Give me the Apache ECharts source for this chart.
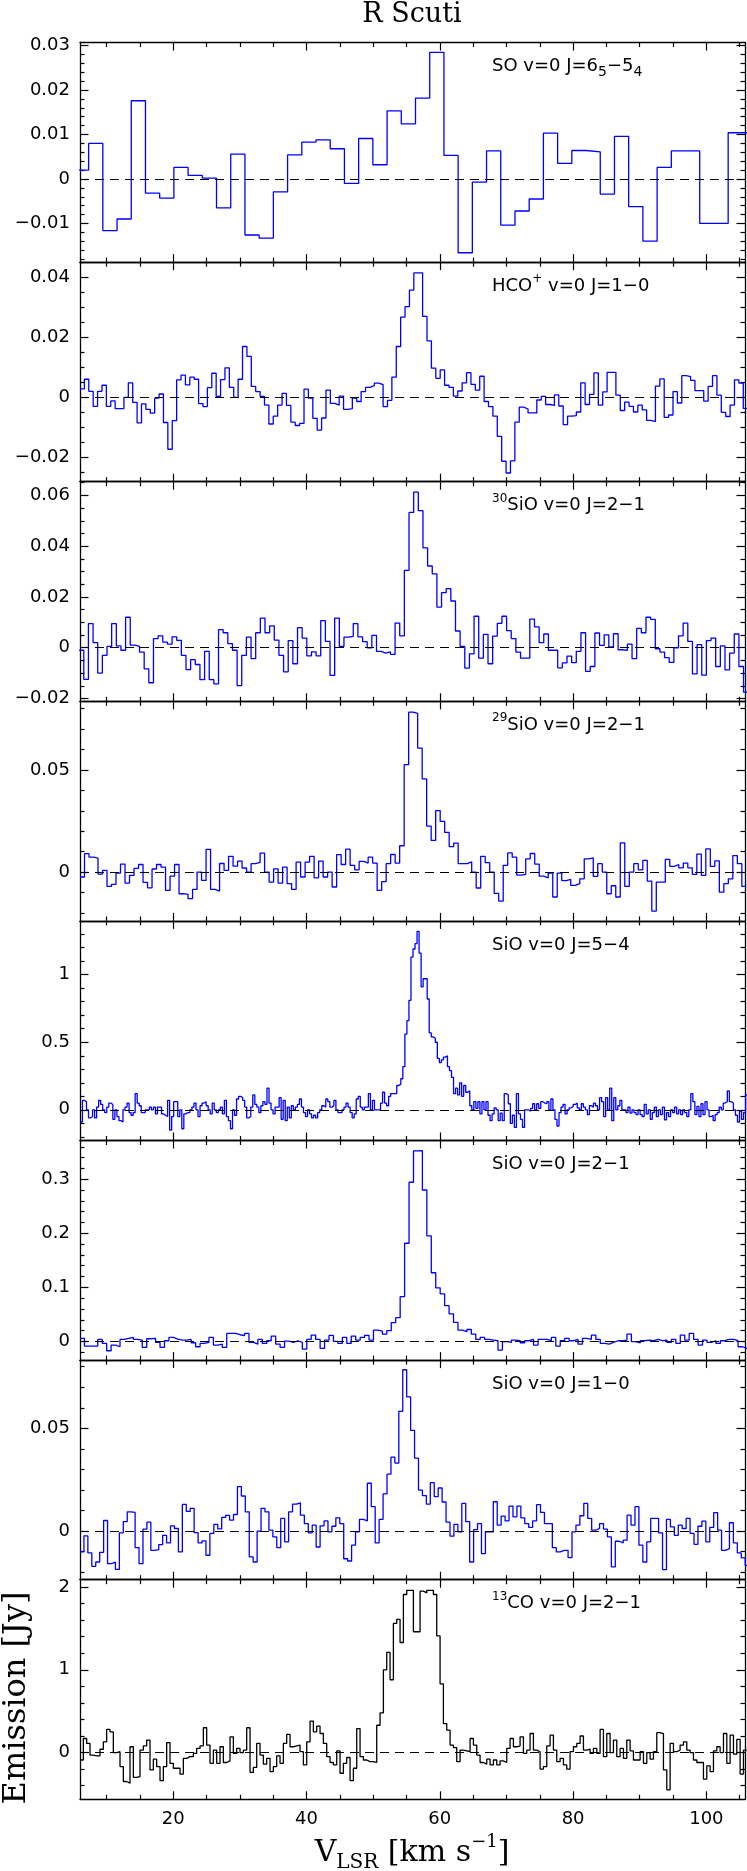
<!DOCTYPE html>
<html>
<head>
<meta charset="utf-8">
<script src="https://cdn.jsdelivr.net/npm/echarts@6/dist/echarts.min.js"></script>
<style>
html, body { margin: 0; padding: 0; background: #fff; }
#chart { width: 747px; height: 1871px; }
</style>
</head>
<body>
<div id="chart"></div>
<script>
// velocity axis (km/s)
var vMin = 6, vMax = 105.8;
var xMajorTicks = [20, 40, 60, 80, 100];
var xMinorTicks = [10, 15, 25, 30, 35, 45, 50, 55, 65, 70, 75, 85, 90, 95, 105];

// each spectrum: [left edge of first channel, right edge of last channel] and flux per channel (Jy)
var soEdges = [5.16, 107.54];
var soFlux = [0.002, 0.008, -0.0116, -0.009, 0.0176, -0.0032, -0.0043, 0.0026, 0.0008, 0.0002,
  -0.0065, 0.0056, -0.0126, -0.0133, -0.0029, 0.0054, 0.0083, 0.0088, 0.0068, -0.001,
  0.0091, 0.0032, 0.0153, 0.0124, 0.0182, 0.0285, 0.0053, -0.0166, -0.0007, 0.0063,
  -0.0104, -0.0072, -0.0045, 0.0103, 0.0035, 0.0064, 0.0061, -0.0034, 0.0096, -0.0062,
  -0.014, 0.0026, 0.0063, 0.0063, -0.01, -0.01, 0.0104, 0.0104];

var hcoEdges = [6.0, 106.2];
var hcoFlux = [0.0028,
  0.006, 0.002, -0.003, 0.002, 0.004, -0.003, -0.0012, -0.0038, -0.0038, 0,
  0.0048, -0.0017, -0.0085, -0.0022, -0.004, -0.0053, -0.0003, 0.0011, -0.0084, -0.0173,
  -0.0078, 0.0058, 0.0074, 0.0041, 0.0067, 0.006, -0.0021, -0.0031, 0.0032, 0.008,
  0.0003, 0.0059, 0.0098, 0.0033, 0, 0.006, 0.0169, 0.0136, 0.0036, 0.0019,
  0.0003, -0.0026, -0.0089, -0.0063, -0.0026, 0.0013, -0.0027, -0.0083, -0.0094, -0.0087,
  0.0027, -0.0003, -0.007, -0.0109, -0.0069, 0.0024, -0.002, -0.0026, 0.0004, -0.004,
  -0.0038, -0.0003, -0.0014, 0.0019, 0.0033, 0.0039, 0.0047, 0.0042, -0.0031, -0.001,
  0.0067, 0.0169, 0.0267, 0.0302, 0.0357, 0.0414, 0.0414, 0.0269, 0.0188, 0.0097,
  0.0063, 0.0091, 0.004, 0.0033, 0.0004, 0.0021, 0.0048, 0.0082, 0.0043, 0.0024,
  0.007, -0.0014, -0.0031, -0.0063, -0.013, -0.0213, -0.0252, -0.0212, -0.0083, -0.0033,
  -0.0039, -0.0052, -0.0052, -0.0009, 0.0003, -0.0024, -0.0027, 0.0008, -0.0029, -0.0091,
  -0.0063, -0.0061, -0.0049, 0.0048, -0.0024, 0.001, 0.0081, -0.0026, 0.0018, 0.0083,
  0.0083, 0.0007, -0.0044, -0.0016, -0.003, -0.0049, -0.0026, -0.0042, -0.0077, -0.0081,
  0.0037, 0.0061, -0.0067, -0.0059, 0.0019, -0.0019, 0.0072, 0.0069, 0.0056, 0.0022,
  0.0022, -0.0013, 0.0036, 0.0072, 0.0007, -0.005, -0.0064, -0.0026, 0.0058, 0.0047,
  -0.0037];

var si30Edges = [5.87, 106.28];
var si30Flux = [-0.001,
  -0.0125, 0.0095, 0.002, -0.01, -0.003, 0.0005, 0.0095, 0.0007, -0.001, 0.012,
  0.001, 0.0005, -0.0017, -0.0083, -0.0138, 0.0036, 0.0047, 0.0022, 0.0014, 0.0043,
  0.0029, -0.003, -0.0086, -0.0047, -0.0066, -0.0126, -0.0014, -0.0126, -0.0142, 0.0071,
  0.0059, 0.0016, -0.001, -0.0149, -0.003, 0.0042, -0.0043, 0.0059, 0.0117, 0.0059,
  0.0086, 0.003, -0.003, -0.0095, 0.0028, -0.0063, 0.0079, 0.0038, -0.0032, -0.0016,
  -0.0032, 0.0107, 0.0025, -0.0109, 0.0117, 0.0005, 0.0042, 0.0045, 0.0095, 0.0043,
  0.0024, 0, 0.0049, -0.0014, -0.0021, -0.0016, -0.0026, 0.0097, 0.0047, 0.0305,
  0.0533, 0.0613, 0.054, 0.0393, 0.0322, 0.0291, 0.016, 0.0217, 0.0233, 0.0184,
  0.0066, 0.0005, -0.008, -0.0024, 0.0124, -0.0041, 0.0053, -0.0063, 0.0046, 0.0096,
  0.0124, 0.0067, 0.0036, -0.0017, -0.0041, -0.0041, 0.0113, 0.0082, 0.002, 0.0054,
  -0.001, -0.001, -0.0079, -0.006, -0.0033, -0.0059, -0.0014, 0.0059, -0.0093, -0.0074,
  0.0058, 0.0009, 0.0051, 0.0003, 0.0055, -0.0008, -0.001, 0.0014, -0.0043, 0.0076,
  0.0059, 0.012, 0.0112, -0.0004, -0.0017, -0.0039, -0.0058, 0, 0.0047, 0.0097,
  0.0025, -0.0103, 0.0012, -0.0108, 0.0028, 0.0038, -0.0074, 0.0007, -0.0087, -0.0021,
  0.0054, -0.0074, -0.0175];

var si29Edges = [6.0, 106.0];
var si29Flux = [-0.0024, 0.009, 0.0073, 0.0068, -0.001, 0.0008, -0.007, -0.006, -0.0005, 0.0039,
  -0.0054, -0.0016, 0.0018, 0.0037, -0.005, -0.0077, 0.0015, 0.0037, 0.0024, -0.009,
  -0.002, 0.0037, -0.0106, -0.0109, -0.013, -0.0085, 0, -0.0041, 0.0111, -0.0085,
  -0.0093, 0.0042, 0.0008, 0.0077, 0.0029, 0.0054, 0.002, 0, 0.0041, 0.0047,
  0.0093, 0, -0.0049, 0.0016, -0.0054, 0.0024, -0.0057, -0.0085, 0.0049, -0.0024,
  0.0049, 0.0077, -0.0028, 0.0054, -0.0024, 0, -0.0073, 0.0085, 0.0037, 0.0112,
  0.0033, 0.0011, 0.0052, 0.0044, 0.0073, 0.0044, -0.009, -0.0047, 0.0041, 0.0086,
  0.0044, 0.0129, 0.0526, 0.0783, 0.0777, 0.0607, 0.0456, 0.0225, 0.0155, 0.0301,
  0.0248, 0.0194, 0.0125, 0.0142, 0.0041, 0.0041, 0.005, 0, -0.0078, 0.0077,
  0.0046, 0, -0.0104, -0.0142, 0.0033, 0.0094, 0.0073, -0.0015, -0.0011, 0.0065,
  0.0091, 0.0039, -0.002, -0.0028, -0.0005, -0.0122, -0.0005, -0.0042, -0.0036, -0.0065,
  -0.0057, -0.0033, 0.0065, 0.007, -0.0021, 0.0041, 0, -0.0106, -0.0067, -0.0122,
  0.0143, -0.007, 0, 0.0041, 0.0011, 0.0057, -0.0044, -0.0191, -0.0049, -0.0049,
  0.0062, 0.0028, 0.0037, 0.0021, 0.0044, 0.0021, -0.0011, 0.0088, -0.0016, 0.0114,
  0.0028, 0.0055, -0.0098, -0.0057, -0.0033, 0.0081, 0.0041, -0.007];

var sio54Edges = [6.06, 106.8];
var sio54Flux = [-0.09, 0.07, 0.06, 0.0, -0.06, -0.05, 0.0, -0.06, 0.02, 0.07,
  0.04, 0.0, -0.02, 0.02, 0.05, 0.04, -0.07, 0.0, -0.05, -0.08,
  -0.09, 0.0, 0.02, 0.05, -0.02, -0.04, -0.02, 0.12, 0.05, 0.03,
  -0.02, -0.02, 0.0, 0.0, 0.02, 0.0, 0.02, -0.03, 0.02, 0.02,
  -0.03, -0.04, -0.05, 0.07, -0.15, -0.05, 0.06, 0.06, -0.05, 0.0,
  -0.14, -0.03, -0.02, -0.02, 0.0, 0.02, 0.05, 0.0, -0.05, 0.03,
  0.05, 0.06, 0.03, 0.0, -0.03, 0.05, 0.0, -0.02, 0.0, 0.02,
  -0.03, 0.07, -0.05, -0.08, -0.14, 0.0, -0.04, 0.08, 0.1, 0.09,
  0.07, 0.02, -0.06, -0.05, 0.02, 0.11, 0.04, 0.02, -0.02, 0.03,
  0.06, 0.04, 0.16, 0.05, 0.0, -0.03, 0.02, 0.02, 0.09, -0.07,
  0.07, -0.08, 0.02, -0.06, 0.03, 0.0, 0.02, 0.04, 0.08, 0.02,
  -0.02, -0.05, 0.0, -0.03, -0.06, -0.04, -0.06, -0.02, 0.0, 0.03,
  0.02, 0.08, 0.06, 0.02, 0.03, 0.07, 0.0, -0.02, -0.02, 0.0,
  0.02, 0.05, 0.02, -0.02, -0.06, -0.03, 0.08, 0.1, 0.02, 0.0,
  0.02, 0.02, 0.12, 0.0, 0.07, 0.0, 0.0,
  0.0, 0.05, 0.13, 0.05, 0.03, 0.1, 0.12, 0.12, 0.12, 0.18,
  0.19, 0.23, 0.32, 0.56, 0.66, 0.81, 1.13, 1.19, 1.23, 1.32,
  1.16, 0.91, 0.97, 0.97, 0.82, 0.57, 0.54, 0.53, 0.5, 0.38,
  0.35, 0.37, 0.39, 0.4, 0.32, 0.29, 0.24, 0.12, 0.16, 0.11,
  0.2, 0.1, 0.18, 0.13, 0.14, 0.03, 0.0, 0.06, 0.01, 0.06,
  -0.03, 0.06, 0.0, 0.06, -0.04, -0.08, -0.03, 0.015, 0, -0.08,
  -0.025, -0.08, 0.12, 0.11, 0.045, -0.1, -0.04, -0.13, 0.12, -0.03,
  -0.07, -0.13, 0, 0, -0.01, 0.01, 0.045, 0, 0.045, 0.01,
  0.06, 0.05, 0.045, 0.06, 0, 0.08, 0, -0.07, -0.12, -0.02,
  0.02, 0.04, -0.03, 0, 0.015, 0.025, 0.04, 0.05, 0.015, 0,
  0.045, 0.02, 0, -0.035, 0.03, 0.02, 0.05, 0.03, 0, 0.09,
  0.06, -0.05, 0.09, 0, 0.16, -0.08, 0.09, 0, 0.03, 0.07,
  0, 0, -0.02, 0.02, -0.025, 0, -0.02, -0.035, 0, -0.035,
  -0.05, 0.04, -0.03, 0, -0.07, -0.02, 0.02, -0.05, 0, -0.035,
  0.02, -0.075, -0.02, -0.05, 0, -0.02, 0.02, -0.03, 0, -0.035,
  0, -0.02, -0.05, 0, 0.12, 0.06, -0.035, 0.025, -0.05, 0.045,
  -0.035, 0.06, 0, -0.05, -0.04, -0.08, -0.035, -0.02, 0.02, 0,
  0.05, 0.06, 0.14, 0.06, 0.05, 0, -0.04, -0.09, -0.01, -0.07,
  -0.02, 0.11, 0.045, 0];

var sio21Edges = [6.0, 106.1];
var sio21Flux = [0.0056, -0.0086, -0.0086, -0.0086, 0.0037, -0.0037, -0.0173, -0.0068, -0.0099, 0.0037,
  0.0056, 0.0074, 0.0037, 0.0025, -0.0111, 0.0049, 0.0056, -0.0019, -0.0111, 0.0012,
  0.0074, 0.0043, 0.0025, 0.0025, 0.0037, -0.0025, -0.0099, -0.0037, -0.0019, 0.0074,
  -0.0068, -0.0049, -0.0111, 0.0148, 0.0148, 0.0123, 0.0105, 0.0148, -0.0019, -0.0049,
  0.0037, -0.0037, 0.0012, 0.0099, -0.0049, -0.0111, 0.0006, -0.0019, 0.0012, -0.0019,
  -0.0142, 0.0037, 0.0117, 0.0037, -0.013, 0.0025, 0.0111, 0, -0.0037, 0.0074,
  -0.0037, 0.0099, 0.0025, 0.0074, 0.0111, 0.0025, 0.021, 0.0191, 0.0136, 0.0198,
  0.0346, 0.0438, 0.0827, 0.1815, 0.2944, 0.3525, 0.353, 0.28, 0.195, 0.127,
  0.099, 0.088, 0.066, 0.051, 0.035, 0.021, 0.018, 0.022, 0.0136, 0.0037,
  0.0074, 0.0037, 0.0025, 0.0012, -0.016, -0.0006, -0.0019, 0.0025, 0.0012, -0.0025,
  0.0012, 0.0037, -0.0068, 0.0037, 0.0037, 0.0012, 0.0074, -0.0086, 0.0012, 0.0056,
  0.0012, 0.0037, -0.0049, 0.0056, 0.0037, 0.0117, 0.0037, -0.0037, -0.0049, -0.0019,
  0.0012, 0.0012, 0.0025, 0.0136, -0.0006, -0.0025, 0.0012, 0.0025, 0.0012, 0.0037,
  0.0012, 0.0025, -0.0019, 0.0037, -0.0037, 0.0117, 0.0025, 0.0148, 0.0037, -0.0068,
  0.0025, -0.0019, 0.0012, -0.0037, 0.0012, 0.0037, 0.0037, 0.0012, -0.0099, -0.013];

var sio10Edges = [6.0, 107.6];
var sio10Flux = [-0.01, -0.0023, -0.0106, -0.0171, -0.015, -0.0103, 0.0052, -0.0158, -0.0151, -0.0186,
  -0.0008, 0.0046, 0.0094, 0.0091, -0.008, -0.0158, 0.001, 0.0044, -0.0093, -0.009,
  -0.0065, -0.002, -0.0057, 0.0026, 0.0013, -0.0101, 0.013, 0.0096, 0.0111, -0.0007,
  -0.0057, -0.0047, -0.0117, -0.0011, 0.0033, 0.0011, 0.0067, 0.0077, 0.0054, 0.0081,
  0.0217, 0.0171, 0.0094, -0.0125, -0.015, 0, 0.0111, 0.0094, 0.0005, -0.0028,
  -0.008, 0.0062, -0.0052, 0.0094, 0.0132, 0.0138, 0.0078, 0.0037, -0.0008, 0.0029,
  -0.0077, 0.0026, 0.005, -0.0003, 0.0024, 0.0065, 0.0037, -0.0134, -0.0145, -0.0068,
  -0.0003, 0.0057, 0.005, 0.0233, 0.0119, -0.0057, 0.0057, 0.0181, 0.0277, 0.036,
  0.0331, 0.0583, 0.0785, 0.0653, 0.049, 0.0355, 0.02, 0.0173, 0.0132, 0.0236,
  0.0168, 0.021, 0.0142, 0.0044, -0.0024, 0.0033, -0.0003, 0.0135, 0.0046, -0.015,
  0.0008, 0.0037, -0.0109, -0.0003, -0.0003, 0.0143, 0.0029, 0.0073, 0.005, 0.0122,
  0.007, 0.0122, 0.0065, 0.0037, 0.0018, 0.005, 0.0129, 0.0091, 0.0037, 0.0037,
  -0.008, -0.0101, -0.0093, -0.0093, -0.0129, -0.0003, 0.0029, 0.0075, 0.0135, 0.0062,
  0.0005, 0.0013, 0.0037, 0.001, -0.0028, -0.0174, -0.0049, -0.0057, -0.0044, 0.0078,
  0.0029, 0.0119, -0.0068, -0.015, -0.0052, 0.0062, 0.0062, -0.0008, -0.0187, 0.0057,
  0.0021, -0.002, 0.0029, 0.0013, 0.0062, -0.0011, -0.0064, 0.0024, 0.0049, -0.0052,
  0.0018, 0.009, 0.0005, -0.0093, -0.0085, 0.0041, -0.0057, -0.0106, -0.013, -0.0166,
  -0.0166, -0.0166];

var co13Edges = [6.0, 106.07];
var co13Flux = [-0.09, 0.17, 0.11, -0.03, -0.04, -0.04, 0.04, 0.13, 0.28, 0.25,
  0, 0.01, -0.17, -0.35, -0.37, 0.07, -0.3, -0.29, 0.03, 0.08,
  0.15, -0.21, -0.08, -0.17, -0.34, -0.17, 0.12, -0.13, -0.19, -0.19,
  -0.26, -0.07, -0.05, -0.05, -0.01, 0.05, 0.08, 0.3, 0.09, -0.13,
  0.03, -0.13, 0.07, -0.12, -0.1, 0.19, -0.01, 0.05, 0, 0.03,
  0.3, -0.24, -0.18, 0.11, -0.03, -0.14, -0.07, -0.23, -0.17, -0.04,
  -0.13, 0.11, 0.22, 0.07, 0.08, 0.09, 0.01, -0.15, 0.13, 0.38,
  0.25, 0.32, 0.23, 0.11, -0.05, -0.12, -0.15, 0.02, -0.25, -0.13,
  -0.06, -0.34, -0.19, 0.29, -0.05, -0.09, -0.11, -0.11, -0.12, 0.33,
  0.48, 1.0, 1.21, 0.88, 1.56, 1.61, 1.33, 1.91, 1.96, 1.96,
  1.46, 1.46, 1.95, 1.93, 1.96, 1.96, 1.91, 1.41, 0.83, 0.35,
  0.27, 0.09, 0.06, -0.11, 0.03, 0.02, 0.01, 0.17, 0.09, -0.03,
  -0.12, -0.14, -0.08, -0.15, -0.09, -0.15, -0.1, -0.12, 0.05, 0.17,
  0.07, 0.08, 0.19, -0.01, 0.03, 0.23, 0.03, 0.01, -0.2, -0.17,
  0.08, 0.21, 0.03, -0.11, -0.07, -0.15, -0.2, 0.01, 0.07, 0.11,
  0.2, 0.03, 0.04, -0.01, 0.05, -0.01, 0.28, -0.05, 0.23, 0,
  0.15, -0.05, 0.05, -0.07, 0.15, 0.02, -0.09, -0.09, 0.01, -0.13,
  0, -0.08, 0.01, 0.24, 0.23, -0.21, -0.45, 0.11, 0.01, 0.03,
  0.09, 0.13, 0.03, 0, -0.09, -0.12, -0.12, -0.32, -0.16, -0.23,
  0.02, 0.07, 0, 0.23, -0.13, 0.21, -0.02, 0.16, -0.26, 0.03];

// y ranges and labelled ticks per panel
var soYRange = [-0.0187, 0.0307], soYTicks = [-0.01, 0, 0.01, 0.02, 0.03];
var hcoYRange = [-0.0281, 0.045], hcoYTicks = [-0.02, 0, 0.02, 0.04];
var si30YRange = [-0.0211, 0.0654], si30YTicks = [-0.02, 0, 0.02, 0.04, 0.06];
var si29YRange = [-0.0239, 0.0836], si29YTicks = [0, 0.05];
var sio54YRange = [-0.227, 1.398], sio54YTicks = [0, 0.5, 1];
var sio21YRange = [-0.0346, 0.3716], sio21YTicks = [0, 0.1, 0.2, 0.3];
var sio10YRange = [-0.0236, 0.0832], sio10YTicks = [0, 0.05];
var co13YRange = [-0.565, 2.089], co13YTicks = [0, 1, 2];

var panels = [
    { edges: soEdges, flux: soFlux, range: soYRange, ticks: soYTicks, minor: 0.002, color: '#0000ff',
      label: '{n|SO v=0 J=6}{b|5}{n|\u22125}{b|4}' },
    { edges: hcoEdges, flux: hcoFlux, range: hcoYRange, ticks: hcoYTicks, minor: 0.005, color: '#0000ff',
      label: '{n|HCO}{t|+}{n| v=0 J=1\u22120}' },
    { edges: si30Edges, flux: si30Flux, range: si30YRange, ticks: si30YTicks, minor: 0.005, color: '#0000ff',
      label: '{t|30}{n|SiO v=0 J=2\u22121}' },
    { edges: si29Edges, flux: si29Flux, range: si29YRange, ticks: si29YTicks, minor: 0.01, color: '#0000ff',
      label: '{t|29}{n|SiO v=0 J=2\u22121}' },
    { edges: sio54Edges, flux: sio54Flux, range: sio54YRange, ticks: sio54YTicks, minor: 0.1, color: '#0000ff',
      label: '{n|SiO v=0 J=5\u22124}' },
    { edges: sio21Edges, flux: sio21Flux, range: sio21YRange, ticks: sio21YTicks, minor: 0.02, color: '#0000ff',
      label: '{n|SiO v=0 J=2\u22121}' },
    { edges: sio10Edges, flux: sio10Flux, range: sio10YRange, ticks: sio10YTicks, minor: 0.01, color: '#0000ff',
      label: '{n|SiO v=0 J=1\u22120}' },
    { edges: co13Edges, flux: co13Flux, range: co13YRange, ticks: co13YTicks, minor: 0.2, color: '#000000',
      label: '{t|13}{n|CO v=0 J=2\u22121}' }
];

var panelTop = 42.5, panelH = 219.6;
var sans = 'DejaVu Sans', serif = 'DejaVu Serif';

// channel left edges -> points for a histogram drawn with step:'end'
function stepData(edges, flux) {
    var dv = (edges[1] - edges[0]) / flux.length;
    var pts = [];
    for (var i = 0; i < flux.length; i++) {
        pts.push([edges[0] + i * dv, flux[i]]);
    }
    pts.push([edges[1], flux[flux.length - 1]]);
    return pts;
}

function minorTicks(range, step, majors) {
    var out = [];
    var k0 = Math.ceil(range[0] / step - 1e-6), k1 = Math.floor(range[1] / step + 1e-6);
    for (var k = k0; k <= k1; k++) {
        var v = +(k * step).toFixed(6);
        var isMajor = majors.some(function (m) { return Math.abs(m - v) < step / 10; });
        if (!isMajor) out.push(v);
    }
    return out;
}

function fmt(v) {
    if (Math.abs(v) < 1e-12) return '0';
    var s = String(+Math.abs(v).toFixed(4));
    return v < 0 ? '\u2212' + s : s;
}

function xAxisDef(grid, pos, ticks, len, withLabels, withLine) {
    return {
        type: 'value', gridIndex: grid, position: pos, min: vMin, max: vMax,
        axisLine: { show: withLine, onZero: false, lineStyle: { color: '#000', width: 1.3 } },
        axisTick: { show: true, inside: true, length: len, customValues: ticks, lineStyle: { color: '#000', width: 1.2 } },
        axisLabel: { show: withLabels, customValues: ticks, margin: 11, color: '#000', fontSize: 18, fontFamily: sans },
        splitLine: { show: false }
    };
}

function yAxisDef(grid, pos, range, ticks, len, withLabels, withLine) {
    return {
        type: 'value', gridIndex: grid, position: pos, min: range[0], max: range[1],
        axisLine: { show: withLine, onZero: false, lineStyle: { color: '#000', width: 1.3 } },
        axisTick: { show: true, inside: true, length: len, customValues: ticks, lineStyle: { color: '#000', width: 1.2 } },
        axisLabel: { show: withLabels, customValues: ticks, margin: 10, color: '#000', fontSize: 18, fontFamily: sans,
            formatter: function (v) { return fmt(v); } },
        splitLine: { show: false }
    };
}

var labelRich = {
    n: { fontSize: 18, fontFamily: sans, fill: '#000', lineHeight: 26, verticalAlign: 'middle' },
    b: { fontSize: 14, fontFamily: sans, fill: '#000', lineHeight: 14, verticalAlign: 'bottom' },
    t: { fontSize: 12, fontFamily: sans, fill: '#000', lineHeight: 12, verticalAlign: 'top' }
};

var grids = [], xAxes = [], yAxes = [], series = [], graphics = [];

panels.forEach(function (p, i) {
    var top = panelTop + i * panelH;
    grids.push({ left: 80, right: 2, top: top, height: panelH });

    xAxes.push(xAxisDef(i, 'bottom', xMajorTicks, 8, i === panels.length - 1, true));
    xAxes.push(xAxisDef(i, 'bottom', xMinorTicks, 4.5, false, false));
    xAxes.push(xAxisDef(i, 'top', xMajorTicks, 8, false, true));
    xAxes.push(xAxisDef(i, 'top', xMinorTicks, 4.5, false, false));

    var minor = minorTicks(p.range, p.minor, p.ticks);
    yAxes.push(yAxisDef(i, 'left', p.range, p.ticks, 8.5, true, true));
    yAxes.push(yAxisDef(i, 'left', p.range, minor, 4.5, false, false));
    yAxes.push(yAxisDef(i, 'right', p.range, p.ticks, 8.5, false, true));
    yAxes.push(yAxisDef(i, 'right', p.range, minor, 4.5, false, false));

    series.push({
        type: 'line', xAxisIndex: 4 * i, yAxisIndex: 4 * i,
        data: stepData(p.edges, p.flux), step: 'end',
        symbol: 'none', showSymbol: false, clip: true, silent: true, animation: false,
        lineStyle: { color: p.color, width: 1.3 },
        markLine: {
            silent: true, animation: false, symbol: ['none', 'none'], label: { show: false },
            lineStyle: { color: '#000', type: [9, 6], width: 1.2 },
            data: [{ yAxis: 0 }]
        }
    });

    graphics.push({
        type: 'text', x: 492, y: top + 24, silent: true,
        style: { text: p.label, rich: labelRich, fill: '#000', fontSize: 18, fontFamily: sans,
                 align: 'left', verticalAlign: 'middle' }
    });
});

// title and axis names
graphics.push({
    type: 'text', x: 412, y: 14.5, silent: true,
    style: { text: 'R Scuti', fill: '#000', fontSize: 27, fontFamily: serif, align: 'center', verticalAlign: 'middle' }
});
graphics.push({
    type: 'text', x: 412, y: 1853, silent: true,
    style: {
        text: '{n|V}{b|LSR}{n| [km s}{t|\u22121}{n|]}', align: 'center', verticalAlign: 'middle', fill: '#000',
        fontSize: 30, fontFamily: serif,
        rich: {
            n: { fontSize: 30, fontFamily: serif, fill: '#000', lineHeight: 40, verticalAlign: 'middle' },
            b: { fontSize: 20, fontFamily: serif, fill: '#000', lineHeight: 20, verticalAlign: 'bottom' },
            t: { fontSize: 18, fontFamily: serif, fill: '#000', lineHeight: 26, verticalAlign: 'top' }
        }
    }
});
graphics.push({
    type: 'text', x: 17, y: 1698, rotation: Math.PI / 2, silent: true,
    style: { text: 'Emission [Jy]', fill: '#000', fontSize: 32, fontFamily: serif, align: 'center', verticalAlign: 'middle' }
});

var myChart = echarts.init(document.getElementById('chart'), null, { renderer: 'canvas' });
myChart.setOption({
    animation: false,
    backgroundColor: '#fff',
    grid: grids,
    xAxis: xAxes,
    yAxis: yAxes,
    series: series,
    graphic: graphics
});
</script>
</body>
</html>
